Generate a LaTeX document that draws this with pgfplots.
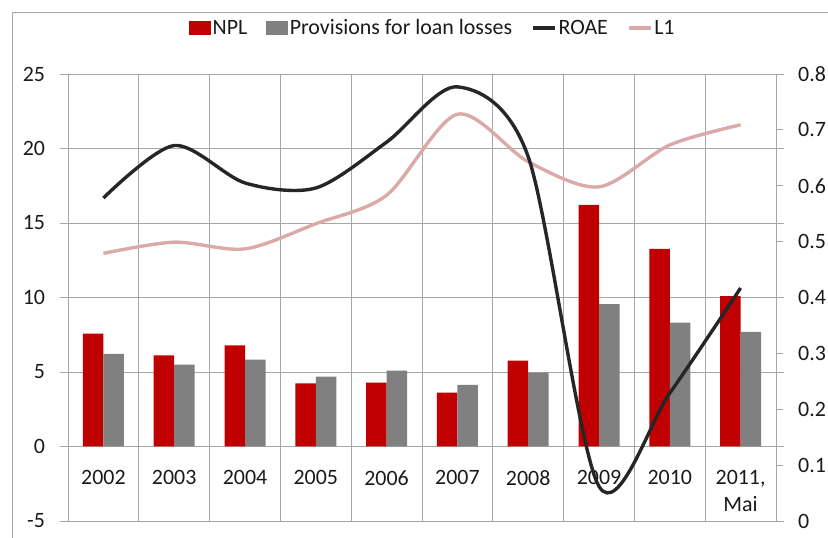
\documentclass[border=0pt]{standalone}
\usepackage{fontspec}
\setmainfont{Carlito}
\usepackage{pgfplots}
\pgfplotsset{compat=1.18}
\definecolor{npl}{HTML}{C00000}
\definecolor{prov}{HTML}{808080}
\definecolor{roae}{HTML}{262626}
\definecolor{lone}{HTML}{D9AAA8}
\definecolor{gridc}{HTML}{A6A6A6}
\definecolor{txt}{HTML}{1A1A1A}
\begin{document}
\begin{tikzpicture}[x=1bp,y=1bp]
\path[use as bounding box] (0,0) rectangle (828,538);
\draw[gridc, line width=0.8bp] (12.5,0) -- (12.5,525.5) -- (828,525.5);
\begin{axis}[
  at={(68bp,17bp)}, anchor=south west,
  scale only axis, width=708bp, height=447bp,
  xmin=-0.5, xmax=9.5, ymin=-5, ymax=25,
  ytick={-5,0,5,10,15,20,25},
  xtick={0,...,9},
  xticklabels={2002,2003,2004,2005,2006,2007,2008,2009,2010,{2011,\\Mai}},
  minor xtick={0.5,1.5,2.5,3.5,4.5,5.5,6.5,7.5,8.5},
  xminorgrids, ymajorgrids,
  grid style={gridc, line width=0.8bp},
  minor grid style={gridc, line width=0.8bp},
  axis line style={gridc, line width=0.8bp},
  tick align=outside,
  xtick style={draw=none},
  minor tick length=0bp,
  ytick style={gridc, line width=0.8bp},
  major tick length=8bp,
  /pgf/number format/assume math mode=true,
  ticklabel style={font=\fontsize{22}{27}\selectfont, text=txt},
  yticklabel style={xshift=-11.5bp},
  xticklabel style={align=center, yshift=62bp},
]
\addplot[ybar, bar width=20.5bp, bar shift=-10.25bp, fill=npl, draw=none] coordinates {
(0,7.57) (1,6.12) (2,6.79) (3,4.24) (4,4.29) (5,3.62) (6,5.76) (7,16.22) (8,13.27) (9,10.1)};
\addplot[ybar, bar width=20.5bp, bar shift=10.25bp, fill=prov, draw=none] coordinates {
(0,6.21) (1,5.50) (2,5.83) (3,4.69) (4,5.09) (5,4.13) (6,4.96) (7,9.56) (8,8.31) (9,7.69)};
\end{axis}
\begin{axis}[
  at={(68bp,17bp)}, anchor=south west,
  scale only axis, width=708bp, height=447bp,
  xmin=-0.5, xmax=9.5, ymin=0, ymax=0.8,
  axis x line=none, axis y line*=right,
  ytick={0,0.1,0.2,0.3,0.4,0.5,0.6,0.7,0.8},
  yticklabels={0,0.1,0.2,0.3,0.4,0.5,0.6,0.7,0.8},
  axis line style={gridc, line width=0.8bp},
  tick align=outside,
  ytick style={gridc, line width=0.8bp},
  major tick length=7bp,
  ticklabel style={font=\fontsize{22}{27}\selectfont, text=txt},
  yticklabel style={xshift=11.7bp},
  legend style={at={(0.5155,1.103)}, anchor=center, draw=none, fill=none,
    font=\fontsize{22}{27}\selectfont, text=txt,
    /tikz/every even column/.append style={column sep=17bp}},
  legend columns=4,
]
\addlegendimage{legend image code/.code={\fill[npl] (0bp,-6.5bp) rectangle (21bp,6.5bp);}}
\addlegendentry{NPL}
\addlegendimage{legend image code/.code={\fill[prov] (0bp,-6.5bp) rectangle (21bp,6.5bp);}}
\addlegendentry{Provisions for loan losses}
\addlegendimage{legend image code/.code={\draw[roae, line width=3.4bp] (0bp,0bp) -- (22bp,0bp);}}
\addlegendentry{ROAE}
\addlegendimage{legend image code/.code={\draw[lone, line width=3.4bp] (0bp,0bp) -- (22bp,0bp);}}
\addlegendentry{L1}
\addplot[forget plot, lone, line width=3.4bp, smooth, tension=0.5] coordinates {
(0,0.479) (1,0.499) (2,0.487) (3,0.532) (4,0.583) (5,0.728) (6,0.643) (7,0.598) (8,0.673) (9,0.709)};
\addplot[forget plot, roae, line width=3.4bp, smooth, tension=0.5] coordinates {
(0,0.578) (1,0.672) (2,0.605) (3,0.596) (4,0.678) (5,0.777) (6,0.652) (7,0.062) (8,0.229) (9,0.417)};
\end{axis}
\end{tikzpicture}
\end{document}
